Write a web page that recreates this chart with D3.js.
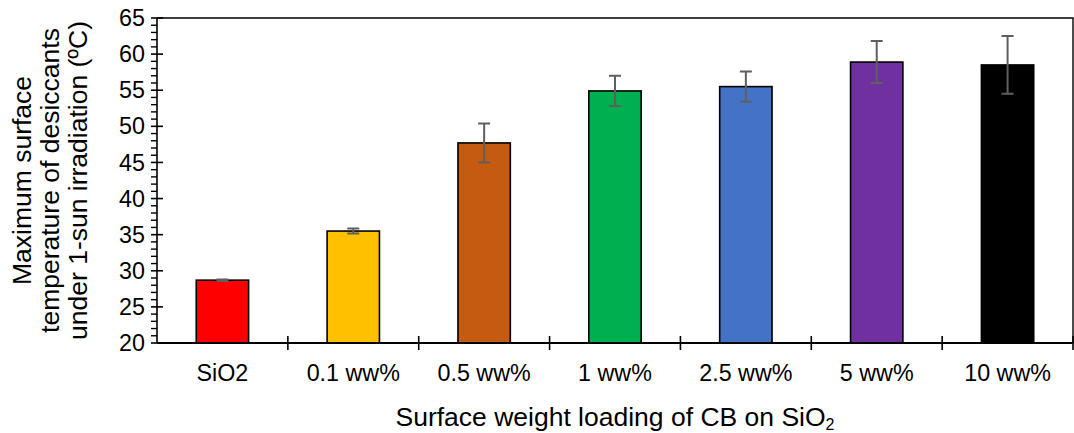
<!DOCTYPE html>
<html>
<head>
<meta charset="utf-8">
<script src="https://cdn.jsdelivr.net/npm/d3@7"></script>
<style>
  html, body { margin: 0; padding: 0; background: #fff; }
  svg { display: block; font-family: "Liberation Sans", Arial, sans-serif; }
</style>
</head>
<body>
<svg id="chart" width="1074" height="433"></svg>
<script>
// Sample categories (CB loading on SiO2)
const categories = ["SiO2", "0.1 ww%", "0.5 ww%", "1 ww%", "2.5 ww%", "5 ww%", "10 ww%"];
// Maximum surface temperature (°C) and its error
const temperatures = [28.7, 35.5, 47.7, 54.9, 55.5, 58.9, 58.5];
const errors = [0.1, 0.35, 2.7, 2.1, 2.1, 2.9, 4.0];
const barColors = ["#FF0000", "#FFC000", "#C55A11", "#00B050", "#4472C4", "#7030A0", "#000000"];
// Y axis ticks
const yMajorTicks = [20, 25, 30, 35, 40, 45, 50, 55, 60, 65];
const yMinorTicks = d3.range(20, 66, 1);

const svg = d3.select("#chart");
const plot = { left: 157, right: 1073, top: 18, bottom: 343 };

const x = d3.scaleBand()
  .domain(categories)
  .range([plot.left, plot.right])
  .paddingInner(0.6)
  .paddingOuter(0.3);

const y = d3.scaleLinear()
  .domain([20, 65])
  .range([plot.bottom, plot.top]);

const data = categories.map((c, i) => ({ cat: c, v: temperatures[i], e: errors[i], color: barColors[i] }));

// Plot frame: top and right edges
svg.append("path")
  .attr("d", `M${plot.left},${y(65)}H${x.range()[1]}V${y(20)}`)
  .attr("fill", "none")
  .attr("stroke", "#000")
  .attr("stroke-width", 1.4);

// Bars
svg.append("g").selectAll("rect")
  .data(data)
  .join("rect")
  .attr("x", d => x(d.cat))
  .attr("y", d => y(d.v))
  .attr("width", x.bandwidth())
  .attr("height", d => y(20) - y(d.v))
  .attr("fill", d => d.color)
  .attr("stroke", "#000")
  .attr("stroke-width", 1.6);

// Error bars
const capHalf = 6;
const eb = svg.append("g")
  .attr("stroke", "#5f5f5f")
  .attr("stroke-width", 2)
  .attr("fill", "none");
eb.selectAll("path")
  .data(data)
  .join("path")
  .attr("d", d => {
    const cx = x(d.cat) + x.bandwidth() / 2;
    const hi = y(d.v + d.e), lo = y(d.v - d.e);
    return `M${cx - capHalf},${hi}H${cx + capHalf}M${cx},${hi}V${lo}M${cx - capHalf},${lo}H${cx + capHalf}`;
  });

// Y axis: line, minor ticks (outside), major ticks (cross)
const yAxis = svg.append("g");
yAxis.append("line")
  .attr("x1", plot.left).attr("x2", plot.left)
  .attr("y1", y(20)).attr("y2", y(65))
  .attr("stroke", "#000").attr("stroke-width", 1.6);
yAxis.selectAll("line.minor")
  .data(yMinorTicks.filter(v => v % 5 !== 0))
  .join("line")
  .attr("class", "minor")
  .attr("x1", plot.left - 6).attr("x2", plot.left)
  .attr("y1", d => y(d)).attr("y2", d => y(d))
  .attr("stroke", "#000").attr("stroke-width", 1.4);
yAxis.selectAll("line.major")
  .data(yMajorTicks)
  .join("line")
  .attr("class", "major")
  .attr("x1", plot.left - 6).attr("x2", plot.left + 6)
  .attr("y1", d => y(d)).attr("y2", d => y(d))
  .attr("stroke", "#000").attr("stroke-width", 1.6);
yAxis.selectAll("text")
  .data(yMajorTicks)
  .join("text")
  .attr("x", 145)
  .attr("y", d => y(d))
  .attr("dy", "0.35em")
  .attr("text-anchor", "end")
  .attr("font-size", 23.3)
  .attr("fill", "#000")
  .text(d => d);

// X axis: line and category boundary ticks
const step = x.step();
const firstEdge = x(categories[0]) - step * x.paddingOuter();
const edges = d3.range(categories.length + 1).map(i => firstEdge + i * step);
const xAxis = svg.append("g");
xAxis.append("line")
  .attr("x1", plot.left).attr("x2", x.range()[1])
  .attr("y1", y(20)).attr("y2", y(20))
  .attr("stroke", "#000").attr("stroke-width", 1.8);
xAxis.selectAll("line.tick")
  .data(edges.slice(1))
  .join("line")
  .attr("class", "tick")
  .attr("x1", d => d).attr("x2", d => d)
  .attr("y1", y(20) - 7).attr("y2", y(20) + 7)
  .attr("stroke", "#000").attr("stroke-width", 1.6);
xAxis.selectAll("text")
  .data(categories)
  .join("text")
  .attr("x", d => x(d) + x.bandwidth() / 2)
  .attr("y", 381)
  .attr("text-anchor", "middle")
  .attr("font-size", 23.3)
  .attr("fill", "#000")
  .text(d => d);

// X axis title with subscript
const xTitle = svg.append("text")
  .attr("x", (plot.left + plot.right) / 2)
  .attr("y", 426)
  .attr("text-anchor", "middle")
  .attr("font-size", 26.5)
  .attr("fill", "#000");
xTitle.append("tspan").text("Surface weight loading of CB on SiO");
xTitle.append("tspan").attr("font-size", 16).attr("dy", 4).text("2");

// Y axis title (three lines)
const yTitleLines = ["Maximum surface", "temperature of desiccants", "under 1-sun irradiation (\u00BAC)"];
const yTitle = svg.append("text")
  .attr("transform", `translate(0,${(plot.top + plot.bottom) / 2}) rotate(-90)`)
  .attr("text-anchor", "middle")
  .attr("font-size", 26.5)
  .attr("fill", "#000");
yTitle.selectAll("tspan")
  .data(yTitleLines)
  .join("tspan")
  .attr("x", 0)
  .attr("y", (d, i) => 31 + i * 28)
  .text(d => d);
</script>
</body>
</html>
